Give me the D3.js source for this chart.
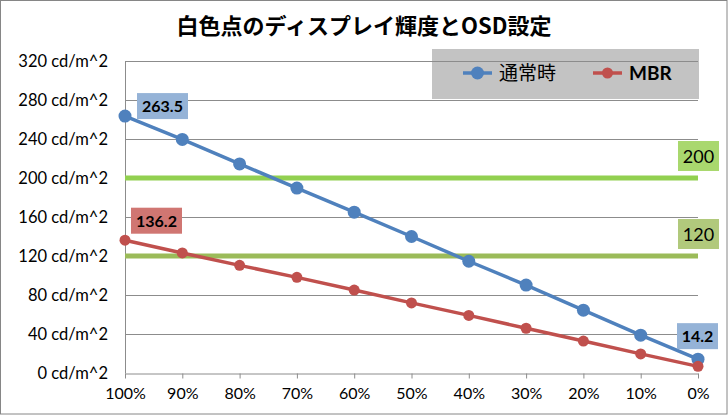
<!DOCTYPE html>
<html lang="ja">
<head>
<meta charset="UTF-8">
<title>白色点のディスプレイ輝度とOSD設定</title>
<script src="https://cdn.jsdelivr.net/npm/d3@7"></script>
<style>
  body { margin: 0; background: #fff; }
  svg text { font-family: Lato, "Noto Sans", sans-serif; }
  .title { font-family: "Noto Sans CJK JP", sans-serif !important; font-weight: bold; }
</style>
</head>
<body>
<svg id="chart" width="728" height="415"></svg>
<script>
// brightness setting (x axis categories)
const levels = ["100%", "90%", "80%", "70%", "60%", "50%", "40%", "30%", "20%", "10%", "0%"];
// white point luminance, cd/m^2
const normalValues = [263.5, 239.6, 214.4, 189.7, 165.0, 140.0, 114.6, 90.2, 64.4, 38.8, 14.2];
const mbrValues = [136.2, 123.1, 110.4, 98.1, 85.1, 71.9, 59.1, 45.9, 32.8, 19.6, 6.8];
const yTicks = [0, 40, 80, 120, 160, 200, 240, 280, 320];
// reference levels drawn as flat lines
const refLevels = [200, 120];
const seriesNames = ["通常時", "MBR"];

const svg = d3.select("#chart");
const W = 728, H = 415;
const margin = { left: 125, right: 30, top: 61, bottom: 42 };

// outer frame
svg.append("rect")
    .attr("x", 0.5).attr("y", 0.5)
    .attr("width", W - 1.5).attr("height", H - 1.5)
    .attr("fill", "#fff").attr("stroke", "#868686");

svg.append("text")
    .attr("class", "title")
    .attr("x", 364).attr("y", 34)
    .attr("text-anchor", "middle")
    .attr("font-size", 22)
    .text("白色点のディスプレイ輝度とOSD設定");

const x = d3.scalePoint()
    .domain(levels)
    .range([margin.left, W - margin.right]);

const y = d3.scaleLinear()
    .domain([0, 320])
    .range([H - margin.bottom, margin.top]);

// legend box sits under the gridlines
const legend = svg.append("g");
legend.append("rect")
    .attr("x", 432).attr("y", 49)
    .attr("width", 267).attr("height", 50)
    .attr("fill", "#c3c3c3");

// gridlines
svg.append("g")
    .selectAll("line")
    .data(yTicks.filter(d => d > 0))
    .join("line")
    .attr("x1", margin.left).attr("x2", W - margin.right)
    .attr("y1", d => Math.round(y(d)) + 0.5)
    .attr("y2", d => Math.round(y(d)) + 0.5)
    .attr("stroke", "#8c8c8c");

// y axis labels
const yAxis = svg.append("g")
    .attr("transform", `translate(${margin.left},0)`)
    .call(d3.axisLeft(y).tickValues(yTicks).tickSize(0).tickPadding(17)
        .tickFormat(d => d + " cd/m^2"));
yAxis.select(".domain").attr("stroke", "#8c8c8c");
yAxis.selectAll("text").attr("font-size", 16.5).attr("fill", "#000");

// x axis
const xAxis = svg.append("g")
    .attr("transform", `translate(0,${Math.round(y(0)) + 0.5})`)
    .call(d3.axisBottom(x).tickSize(5).tickSizeOuter(0).tickPadding(9));
xAxis.select(".domain").attr("stroke", "#8c8c8c");
xAxis.selectAll("line").attr("stroke", "#8c8c8c");
xAxis.selectAll("text").attr("font-size", 16).attr("fill", "#000");

// reference lines + labels
const refColors = ["#92d050", "#9bbb59"];
const refLabelColors = ["#a9d86e", "#b1c97c"];
refLevels.forEach((v, i) => {
    svg.append("line")
        .attr("x1", margin.left).attr("x2", W - margin.right)
        .attr("y1", y(v)).attr("y2", y(v))
        .attr("stroke", refColors[i]).attr("stroke-width", 5);
    svg.append("rect")
        .attr("x", 678).attr("y", y(v) - 37)
        .attr("width", 41).attr("height", 30)
        .attr("fill", refLabelColors[i]);
    svg.append("text")
        .attr("x", 698.5).attr("y", y(v) - 15.5)
        .attr("text-anchor", "middle")
        .attr("font-size", 18)
        .text(v);
});

// series
const series = [
    { name: seriesNames[0], values: normalValues, color: "#4f81bd", r: 6.5, label: "#95b3d7" },
    { name: seriesNames[1], values: mbrValues, color: "#c0504d", r: 5.5, label: "#d07672" }
];

const line = d3.line()
    .x((d, i) => x(levels[i]))
    .y(d => y(d));

series.forEach(s => {
    svg.append("path")
        .datum(s.values)
        .attr("d", line)
        .attr("fill", "none")
        .attr("stroke", s.color)
        .attr("stroke-width", 3.5);
    svg.append("g")
        .selectAll("circle")
        .data(s.values)
        .join("circle")
        .attr("cx", (d, i) => x(levels[i]))
        .attr("cy", d => y(d))
        .attr("r", s.r)
        .attr("fill", s.color);
});

// data labels (first point of each, last point of 通常時)
function dataLabel(cx, cy, text, fill, w) {
    svg.append("rect")
        .attr("x", cx - w / 2).attr("y", cy - 13)
        .attr("width", w).attr("height", 26)
        .attr("fill", fill);
    svg.append("text")
        .attr("x", cx).attr("y", cy + 6)
        .attr("text-anchor", "middle")
        .attr("font-size", 16)
        .attr("font-weight", "bold")
        .text(text);
}
dataLabel(x(levels[0]) + 37.5, y(normalValues[0]) - 10, normalValues[0], series[0].label, 51);
dataLabel(x(levels[0]) + 31.5, y(mbrValues[0]) - 19.5, mbrValues[0], series[1].label, 51);
dataLabel(x(levels[10]) - 0.5, y(normalValues[10]) - 23, normalValues[10], series[0].label, 41);

// legend entries
const legendItems = [
    { x: 463, s: series[0], weight: "normal", font: "Noto Sans CJK JP", size: 19 },
    { x: 593, s: series[1], weight: "bold", font: "Lato", size: 19 }
];
legendItems.forEach(it => {
    legend.append("line")
        .attr("x1", it.x).attr("x2", it.x + 29)
        .attr("y1", 73).attr("y2", 73)
        .attr("stroke", it.s.color).attr("stroke-width", 3.5);
    legend.append("circle")
        .attr("cx", it.x + 14.5).attr("cy", 73)
        .attr("r", it.s.r).attr("fill", it.s.color);
    legend.append("text")
        .attr("x", it.x + 36).attr("y", 80)
        .attr("font-size", it.size)
        .attr("font-weight", it.weight)
        .style("font-family", it.font)
        .text(it.s.name);
});
</script>
</body>
</html>
